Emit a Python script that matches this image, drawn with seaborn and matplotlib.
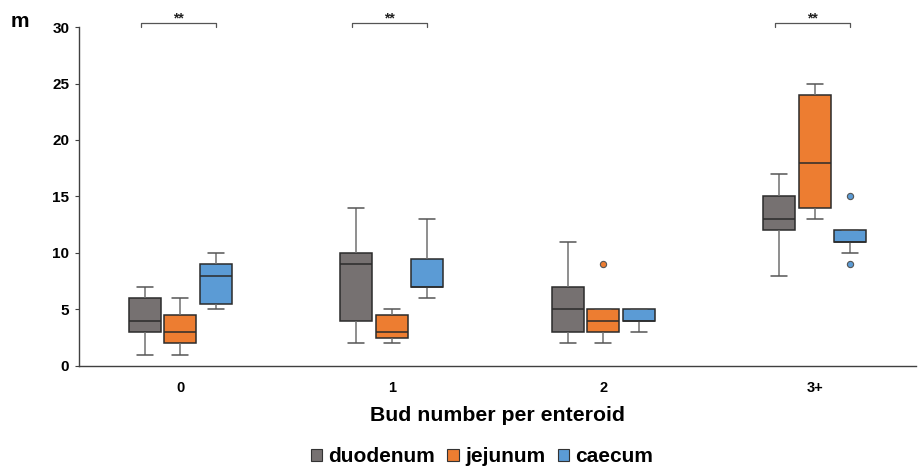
import matplotlib
matplotlib.use("Agg")
import matplotlib.pyplot as plt
import seaborn as sns
import pandas as pd
from matplotlib.patches import Patch

# ---- data ----
categories = ["0", "1", "2", "3+"]
groups = ["duodenum", "jejunum", "caecum"]

duodenum_0 = [1, 3, 4, 6, 7]
jejunum_0 = [1, 2, 3, 4.5, 6]
caecum_0 = [5, 5.5, 8, 9, 10]

duodenum_1 = [2, 4, 9, 10, 14]
jejunum_1 = [2, 2.5, 3, 4.5, 5]
caecum_1 = [6, 7, 7, 9.5, 13]

duodenum_2 = [2, 3, 5, 7, 11]
jejunum_2 = [2, 3, 4, 5, 9]
caecum_2 = [3, 4, 4, 5, 5]

duodenum_3 = [8, 12, 13, 15, 17]
jejunum_3 = [13, 14, 18, 24, 25]
caecum_3 = [9, 10, 11, 11, 11, 12, 12, 12, 15]

significant_categories = ["0", "1", "3+"]
sig_label = "**"

colors = ["#767171", "#ED7D31", "#5B9BD5"]

series = {
    ("0", "duodenum"): duodenum_0, ("0", "jejunum"): jejunum_0, ("0", "caecum"): caecum_0,
    ("1", "duodenum"): duodenum_1, ("1", "jejunum"): jejunum_1, ("1", "caecum"): caecum_1,
    ("2", "duodenum"): duodenum_2, ("2", "jejunum"): jejunum_2, ("2", "caecum"): caecum_2,
    ("3+", "duodenum"): duodenum_3, ("3+", "jejunum"): jejunum_3, ("3+", "caecum"): caecum_3,
}
rows = []
for (cat, grp), vals in series.items():
    for v in vals:
        rows.append({"cat": cat, "group": grp, "value": v})
df = pd.DataFrame(rows)

# ---- plot ----
sns.set_theme(style="white")
plt.rcParams["font.family"] = ["Liberation Sans", "DejaVu Sans"]
plt.rcParams["text.color"] = "black"
plt.rcParams["axes.labelcolor"] = "black"
plt.rcParams["xtick.color"] = "black"
plt.rcParams["ytick.color"] = "black"

fig = plt.figure(figsize=(9.18, 4.74), dpi=100)
ax = fig.add_axes([0.086, 0.228, 0.912, 0.715])

off = 0.168
sns.boxplot(data=df, x="cat", y="value", hue="group", order=categories,
            hue_order=groups, palette=colors, width=0.505, gap=0.1,
            linecolor="#2b2b2b", linewidth=1.1, saturation=1,
            flierprops=dict(marker="o", markersize=4.5, markeredgecolor="#555555",
                            markeredgewidth=0.8),
            legend=False, ax=ax)

# whiskers and caps in grey; outliers filled with their group colour
for line in ax.lines:
    xd, yd = line.get_xdata(), line.get_ydata()
    if line.get_marker() == "o":
        if len(xd):
            rel = xd[0] - round(xd[0])
            gi = 0 if rel < -off / 2 else (2 if rel > off / 2 else 1)
            line.set_markerfacecolor(colors[gi])
        continue
    if len(xd) == 2:
        if xd[0] == xd[1]:
            line.set_color("#707070")
        elif abs(xd[1] - xd[0]) < 0.1:
            line.set_color("#555555")

ax.set_ylim(0, 30)
ax.set_xlim(-0.48, 3.48)
ax.set_yticks(range(0, 31, 5))
for s in ["top", "right"]:
    ax.spines[s].set_visible(False)
for s in ["left", "bottom"]:
    ax.spines[s].set_color("#404040")
    ax.spines[s].set_linewidth(1.0)
ax.tick_params(axis="y", which="both", left=True, length=3, width=0.8, color="#404040",
               labelsize=11, pad=4)
ax.tick_params(axis="x", bottom=False, labelsize=10.5, pad=5)
for lab in ax.get_yticklabels() + ax.get_xticklabels():
    lab.set_fontweight("bold")
ax.set_ylabel("")
ax.set_xlabel("Bud number per enteroid", fontsize=15.3, fontweight="bold", labelpad=8,
              color="black")

# significance brackets
for cat in significant_categories:
    c = categories.index(cat)
    x0, x1 = c - off - 0.02, c + off
    ax.plot([x0, x0, x1, x1], [30.0, 30.35, 30.35, 30.0], color="#555555",
            lw=0.9, clip_on=False)
    ax.text((x0 + x1) / 2, 30.15, sig_label, ha="center", va="bottom",
            fontsize=10, fontweight="bold", color="#222222", clip_on=False)

# legend
handles = [Patch(facecolor=c, edgecolor="#333333", linewidth=0.8) for c in colors]
fig.legend(handles, groups, loc="center", bbox_to_anchor=(0.525, 0.036), ncol=3,
           frameon=False, prop={"size": 15, "weight": "bold"},
           handlelength=0.55, handleheight=0.55, handletextpad=0.3, columnspacing=0.6)

fig.text(0.012, 0.955, "m", fontsize=15, fontweight="bold", ha="left", va="center")

fig.savefig("out.png", dpi=100)
